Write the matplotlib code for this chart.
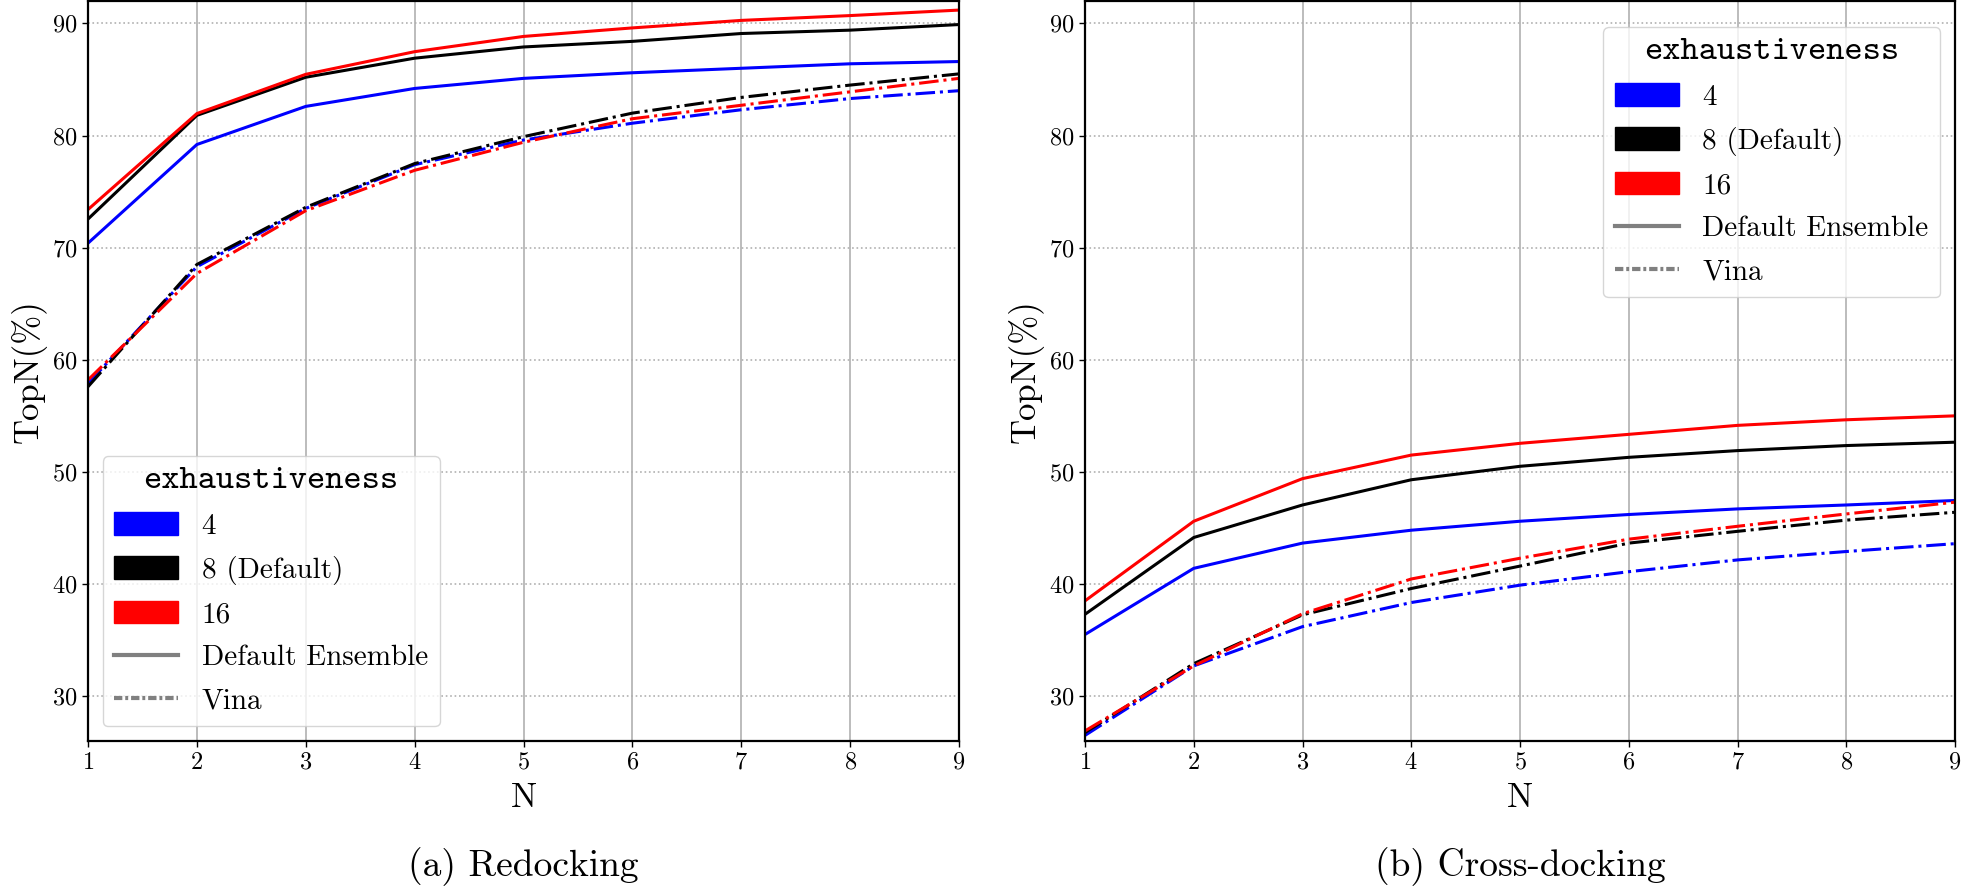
import matplotlib
matplotlib.use("Agg")
import matplotlib.pyplot as plt
from matplotlib.patches import Patch
from matplotlib.lines import Line2D

plt.rcParams['font.family'] = ['cmr10', 'DejaVu Serif']
plt.rcParams['mathtext.fontset'] = 'cm'
plt.rcParams['axes.formatter.use_mathtext'] = True

# data
n_values = [1, 2, 3, 4, 5, 6, 7, 8, 9]
exhaustiveness = ['4', '8 (Default)', '16']
colors = ['blue', 'black', 'red']

# redocking
redock_ens_4 = [70.4, 79.2, 82.6, 84.2, 85.1, 85.6, 86.0, 86.4, 86.6]
redock_ens_8 = [72.55, 81.8, 85.2, 86.9, 87.9, 88.4, 89.1, 89.4, 89.9]
redock_ens_16 = [73.4, 81.96, 85.46, 87.48, 88.84, 89.6, 90.27, 90.7, 91.19]
redock_vina_4 = [57.9, 68.3, 73.5, 77.4, 79.6, 81.1, 82.3, 83.3, 84.0]
redock_vina_8 = [57.6, 68.5, 73.6, 77.5, 79.9, 82.0, 83.4, 84.5, 85.5]
redock_vina_16 = [58.2, 67.7, 73.3, 76.9, 79.4, 81.5, 82.7, 83.9, 85.1]

# cross-docking
cross_ens_4 = [35.5, 41.4, 43.65, 44.8, 45.6, 46.2, 46.7, 47.05, 47.45]
cross_ens_8 = [37.3, 44.15, 47.05, 49.3, 50.5, 51.3, 51.9, 52.35, 52.65]
cross_ens_16 = [38.5, 45.6, 49.4, 51.5, 52.55, 53.35, 54.15, 54.65, 55.0]
cross_vina_4 = [26.5, 32.7, 36.2, 38.35, 39.9, 41.1, 42.15, 42.9, 43.6]
cross_vina_8 = [26.75, 32.9, 37.25, 39.6, 41.6, 43.65, 44.7, 45.7, 46.4]
cross_vina_16 = [26.9, 32.7, 37.35, 40.45, 42.3, 44.0, 45.15, 46.25, 47.3]

panels = [
    ('(a) Redocking', [redock_ens_4, redock_ens_8, redock_ens_16],
     [redock_vina_4, redock_vina_8, redock_vina_16], 'lower left', (0, 0)),
    ('(b) Cross-docking', [cross_ens_4, cross_ens_8, cross_ens_16],
     [cross_vina_4, cross_vina_8, cross_vina_16], 'upper right', (1, 0.985)),
]

W, H = 1961, 891
fig = plt.figure(figsize=(W / 100, H / 100), dpi=100)

axes_px = [(88, 959), (1085, 1955)]
top_px, bottom_px = 1, 741

for (caption, ens, vina, loc, anchor), (x0, x1) in zip(panels, axes_px):
    ax = fig.add_axes([x0 / W, (H - bottom_px) / H, (x1 - x0) / W, (bottom_px - top_px) / H])

    for c, ys in zip(colors, ens):
        ax.plot(n_values, ys, color=c, lw=2.2, ls='-')
    for c, ys in zip(colors, vina):
        ax.plot(n_values, ys, color=c, lw=2.2, ls='-.')

    ax.set_xlim(1, 9)
    ax.set_ylim(26, 92)
    ax.set_xticks(n_values)
    ax.set_yticks([30, 40, 50, 60, 70, 80, 90])
    ax.tick_params(labelsize=17.5, length=4, width=1)
    ax.grid(axis='x', color='#b0b0b0', lw=1.2, ls='-')
    ax.grid(axis='y', color='#b0b0b0', lw=1.2, ls=':')
    ax.set_axisbelow(True)
    for s in ax.spines.values():
        s.set_linewidth(1.6)

    ax.set_xlabel('N', fontsize=25, labelpad=6)
    ax.set_ylabel('TopN(%)', fontsize=25, labelpad=4)

    handles = [Patch(facecolor=c, edgecolor=c) for c in colors]
    handles += [Line2D([], [], color='grey', lw=3, ls='-'),
                Line2D([], [], color='grey', lw=3, dashes=(2.0, 0.7, 0.7, 0.7))]
    labels = exhaustiveness + ['Default Ensemble', 'Vina']
    leg = ax.legend(handles, labels, loc=loc, bbox_to_anchor=anchor, fontsize=21,
                    title='exhaustiveness',
                    handlelength=2.2, handleheight=0.8, labelspacing=0.55,
                    handletextpad=0.8, borderpad=0.4, borderaxespad=0.5)
    leg.get_title().set_fontfamily('cmtt10')
    leg.get_title().set_fontsize(25)

    fig.text((x0 + x1) / 2 / W, 1 - 867 / H, caption, fontsize=27,
             ha='center', va='center')

fig.savefig('out.png', dpi=100)
